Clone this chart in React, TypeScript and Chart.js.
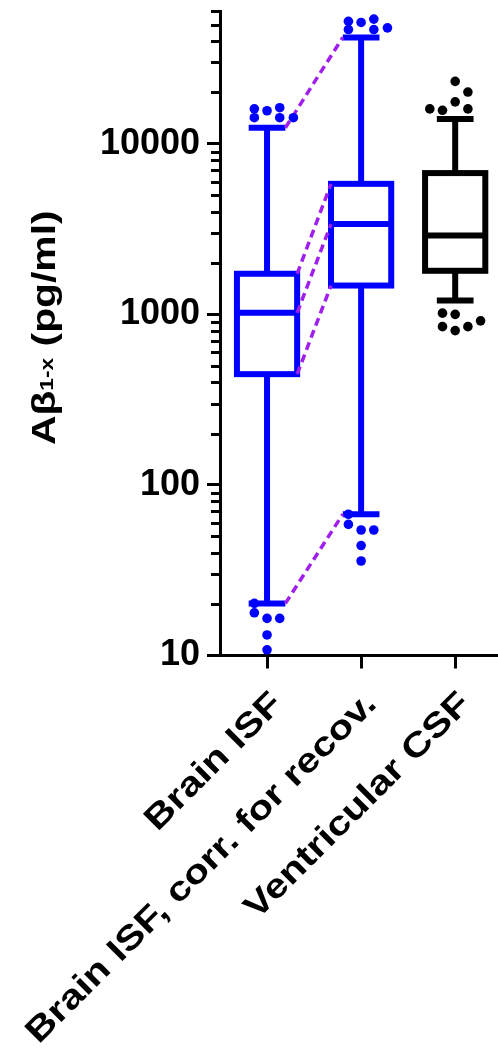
import React, { useEffect, useRef } from 'react';
import { Chart, registerables } from 'chart.js';

Chart.register(...registerables);

// ---- Data ----
const categories = ['Brain ISF', 'Brain ISF, corr. for recov.', 'Ventricular CSF'];
const groupColors = ['#0000FF', '#0000FF', '#000000'];

const whiskerLow = [20.2, 67.3, 1205];
const quartile1 = [446, 1475, 1800];
const medians = [1020, 3380, 2900];
const quartile3 = [1729, 5820, 6730];
const whiskerHigh = [12400, 42000, 13950];

const isfOutliers = [16030, 15610, 16260, 14210, 14210, 14210, 20.2, 17.8, 16.5, 16.5, 13.2, 10.8];
const isfJitter = [-0.135, 0, 0.135, -0.135, 0.135, 0.28, -0.135, -0.135, 0, 0.135, 0, 0];

const corrOutliers = [52200, 51400, 53800, 46700, 46700, 47800, 67.3, 58.7, 54.4, 54.4, 44.1, 35.8];
const corrJitter = [-0.135, 0, 0.135, -0.135, 0.135, 0.28, -0.135, -0.135, 0, 0.135, 0, 0];

const csfOutliers = [23200, 20100, 17600, 16000, 15700, 16000, 1016, 1000, 847, 803, 847, 916];
const csfJitter = [0, 0.135, 0, -0.27, -0.135, 0.135, -0.135, 0, -0.135, 0, 0.135, 0.27];

const outlierValues = [isfOutliers, corrOutliers, csfOutliers];
const outlierJitter = [isfJitter, corrJitter, csfJitter];

const yMajorTicks = [10, 100, 1000, 10000];
const yMinorMultipliers = [2, 3, 4, 5, 6, 7, 8, 9];
const yMin = 10;
const yMax = 60000;
const connectedGroups = [0, 1];

const FONT = "Arial, 'Liberation Sans', Helvetica, sans-serif";
const PURPLE = '#A01EEE';

const boxPlotPlugin = {
  id: 'boxPlotGlyphs',
  beforeDatasetsDraw(chart: any) {
    const ctx = chart.ctx;
    const xs = chart.scales.x;
    const ys = chart.scales.y;
    const cat = xs.getPixelForValue(1) - xs.getPixelForValue(0);
    const boxHalf = cat * 0.32;
    const capHalf = cat * 0.195;
    const yp = (v: number) => ys.getPixelForValue(v);
    ctx.save();
    ctx.lineCap = 'butt';
    ctx.lineJoin = 'miter';
    categories.forEach((_, i) => {
      const x = xs.getPixelForValue(i);
      ctx.strokeStyle = groupColors[i];
      ctx.lineWidth = 6;
      ctx.beginPath();
      ctx.moveTo(x, yp(whiskerHigh[i]));
      ctx.lineTo(x, yp(quartile3[i]));
      ctx.moveTo(x, yp(quartile1[i]));
      ctx.lineTo(x, yp(whiskerLow[i]));
      ctx.moveTo(x - capHalf, yp(whiskerHigh[i]));
      ctx.lineTo(x + capHalf, yp(whiskerHigh[i]));
      ctx.moveTo(x - capHalf, yp(whiskerLow[i]));
      ctx.lineTo(x + capHalf, yp(whiskerLow[i]));
      ctx.stroke();
      const top = yp(quartile3[i]);
      const bot = yp(quartile1[i]);
      ctx.fillStyle = '#FFFFFF';
      ctx.fillRect(x - boxHalf, top, boxHalf * 2, bot - top);
      ctx.strokeRect(x - boxHalf, top, boxHalf * 2, bot - top);
      ctx.beginPath();
      ctx.moveTo(x - boxHalf, yp(medians[i]));
      ctx.lineTo(x + boxHalf, yp(medians[i]));
      ctx.stroke();
    });
    // dashed connectors
    const [a, b] = connectedGroups;
    const xa = xs.getPixelForValue(a);
    const xb = xs.getPixelForValue(b);
    ctx.strokeStyle = PURPLE;
    ctx.lineWidth = 3.5;
    ctx.setLineDash([8, 5]);
    const seg = (va: number, vb: number, half: number) => {
      ctx.beginPath();
      ctx.moveTo(xa + half, yp(va));
      ctx.lineTo(xb - half, yp(vb));
      ctx.stroke();
    };
    seg(whiskerHigh[a], whiskerHigh[b], capHalf);
    seg(quartile3[a], quartile3[b], boxHalf);
    seg(medians[a], medians[b], boxHalf);
    seg(quartile1[a], quartile1[b], boxHalf);
    seg(whiskerLow[a], whiskerLow[b], capHalf);
    ctx.restore();
  },
  afterDraw(chart: any) {
    const ctx = chart.ctx;
    const xs = chart.scales.x;
    const ys = chart.scales.y;
    const area = chart.chartArea;
    ctx.save();
    // minor ticks on the log axis
    ctx.strokeStyle = '#000';
    ctx.lineWidth = 3;
    ctx.beginPath();
    yMajorTicks.forEach((m) => {
      yMinorMultipliers.forEach((k) => {
        const v = m * k;
        if (v <= yMax) {
          const p = Math.round(ys.getPixelForValue(v)) + 0.5;
          ctx.moveTo(area.left - 9, p);
          ctx.lineTo(area.left, p);
        }
      });
    });
    ctx.stroke();
    ctx.restore();

    // category labels, rotated 45 degrees
    ctx.save();
    ctx.fillStyle = '#000';
    ctx.font = 'bold 34px ' + FONT;
    ctx.textAlign = 'right';
    ctx.textBaseline = 'alphabetic';
    categories.forEach((c, i) => {
      const px = xs.getPixelForValue(i);
      ctx.save();
      ctx.translate(px + 17, area.bottom + 50);
      ctx.rotate(-Math.PI / 4);
      ctx.scale(1.2, 1);
      ctx.fillText(c, 0, 0);
      ctx.restore();
    });
    ctx.restore();

    // y-axis title with subscript
    ctx.save();
    const big = 'bold 34px ' + FONT;
    const small = 'bold 19px ' + FONT;
    const p1 = 'A\u03B2';
    const p2 = '1-x';
    const p3 = ' (pg/ml)';
    const stretch = 1.2;
    ctx.font = big;
    const w1 = ctx.measureText(p1).width;
    const w3 = ctx.measureText(p3).width;
    ctx.font = small;
    const w2 = ctx.measureText(p2).width;
    const total = w1 + w2 + w3;
    const cy = (area.top + area.bottom) / 2 - 5.5;
    ctx.translate(55, cy);
    ctx.rotate(-Math.PI / 2);
    ctx.scale(stretch, 1);
    ctx.fillStyle = '#000';
    ctx.textBaseline = 'alphabetic';
    ctx.textAlign = 'left';
    let x0 = -total / 2;
    ctx.font = big;
    ctx.fillText(p1, x0, 0);
    x0 += w1;
    ctx.font = small;
    ctx.fillText(p2, x0, -2);
    x0 += w2;
    ctx.font = big;
    ctx.fillText(p3, x0, 0);
    ctx.restore();
  },
};

export default function App() {
  const ref = useRef<HTMLCanvasElement | null>(null);
  useEffect(() => {
    if (!ref.current) return;
    const datasets = categories.map((c, i) => ({
      label: c,
      data: outlierValues[i].map((v, k) => ({ x: i + outlierJitter[i][k], y: v })),
      backgroundColor: groupColors[i],
      borderWidth: 0,
      pointRadius: 4.8,
      pointHoverRadius: 4.8,
      clip: false,
    }));
    const chart = new Chart(ref.current, {
      type: 'scatter',
      data: { datasets },
      plugins: [boxPlotPlugin],
      options: {
        animation: false,
        responsive: true,
        maintainAspectRatio: false,
        layout: { autoPadding: false, padding: { top: 11, right: 0, left: 0, bottom: 0 } },
        plugins: { legend: { display: false }, tooltip: { enabled: false } },
        scales: {
          x: {
            type: 'linear',
            min: -0.5,
            max: 2.455,
            afterBuildTicks: (s: any) => {
              s.ticks = categories.map((_, i) => ({ value: i }));
            },
            afterFit: (s: any) => {
              s.height = 397.5;
              s.paddingLeft = 0;
              s.paddingRight = 0;
            },
            ticks: { display: false },
            grid: { drawOnChartArea: false, tickLength: 13, tickWidth: 3, tickColor: '#000' },
            border: { display: true, width: 3, color: '#000' },
          },
          y: {
            type: 'logarithmic',
            min: yMin,
            max: yMax,
            afterBuildTicks: (s: any) => {
              s.ticks = yMajorTicks.map((v) => ({ value: v }));
            },
            afterFit: (s: any) => {
              s.width = 220;
              s.paddingTop = 0;
              s.paddingBottom = 0;
            },
            ticks: {
              callback: (v: any) => String(v),
              color: '#000',
              padding: 7,
              font: { family: FONT, size: 36, weight: 'bold' },
            },
            grid: { drawOnChartArea: false, tickLength: 13, tickWidth: 3, tickColor: '#000' },
            border: { display: true, width: 3, color: '#000' },
          },
        },
      },
    });
    return () => chart.destroy();
  }, []);
  return (
    <div style={{ position: 'absolute', left: 0, top: 0, width: 498, height: 1053, background: '#fff' }}>
      <canvas ref={ref} />
    </div>
  );
}
